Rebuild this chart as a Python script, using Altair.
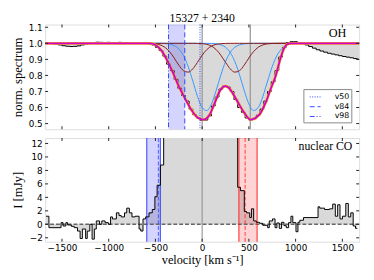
import altair as alt
import pandas as pd

# ---------------- data ----------------
X_DOMAIN = [-1680, 1680]
X_TICKS = [-1500, -1000, -500, 0, 500, 1000, 1500]
OH_Y_TICKS = [0.5, 0.6, 0.7, 0.8, 0.9, 1.0, 1.1]
CO_Y_TICKS = [-2, 0, 2, 4, 6, 8, 10, 12]
TITLE = "15327 + 2340"

# OH spectrum (channel centres, km/s) and normalised flux
OH_V = [-1680, -1640, -1600, -1560, -1520, -1480, -1440, -1400, -1360, -1320,
        -1280, -1240, -1200, -1160, -1120, -1080, -1040, -1000, -960, -920,
        -880, -840, -800, -760, -720, -680, -640, -600, -560, -520,
        -480, -440, -400, -360, -320, -280, -240, -200, -160, -120,
        -80, -40, 0, 40, 80, 120, 160, 200, 240, 280,
        320, 360, 400, 440, 480, 520, 560, 600, 640, 680,
        720, 760, 800, 840, 880, 920, 960, 1000, 1040, 1080,
        1120, 1160, 1200, 1240, 1280, 1320, 1360, 1400, 1440, 1480,
        1520, 1560, 1600, 1640, 1680]
OH_FLUX = [1.000, 1.000, 0.998, 0.995, 0.990, 0.985, 0.982, 0.980, 0.981, 0.984,
           0.990, 0.996, 1.000, 1.004, 1.007, 1.006, 1.005, 1.006, 1.004, 1.005,
           1.006, 1.004, 1.003, 1.002, 1.000, 1.000, 1.000, 0.999, 0.996, 0.990,
           0.975, 0.955, 0.920, 0.870, 0.830, 0.775, 0.720, 0.675, 0.640, 0.590,
           0.555, 0.535, 0.520, 0.522, 0.548, 0.610, 0.665, 0.715, 0.735, 0.728,
           0.700, 0.650, 0.600, 0.570, 0.535, 0.522, 0.530, 0.552, 0.590, 0.640,
           0.700, 0.760, 0.830, 0.915, 0.975, 1.005, 1.010, 1.010, 1.005, 0.998,
           0.990, 0.980, 0.970, 0.960, 0.952, 0.945, 0.938, 0.933, 0.928, 0.923,
           0.918, 0.914, 0.910, 0.905, 0.900]

# total model
TOTAL_V = [-1680, -560, -500, -433, -380, -329, -256, -186, -117, -47, 15, 80, 127,
           196, 248, 290, 336, 390, 440, 520, 614, 684, 736, 788, 830, 858, 910, 950, 1680]
TOTAL_F = [1.0, 1.0, 0.99, 0.953, 0.90, 0.84, 0.74, 0.66, 0.587, 0.537, 0.525, 0.555, 0.618,
           0.71, 0.733, 0.72, 0.68, 0.625, 0.577, 0.525, 0.557, 0.638, 0.72, 0.80, 0.89, 0.943,
           0.994, 1.0, 1.0]

# model components (light blue and dark red curves)
MODEL_V = [-1680, -650, -600, -550, -500, -450, -400, -350, -300, -250, -200, -150, -100,
           -50, 0, 50, 100, 150, 200, 250, 300, 350, 400, 450, 500, 550, 600, 650, 700,
           750, 800, 850, 900, 950, 1000, 1050, 1100, 1150, 1680]
BLUE1 = [1.0, 1.0, 1.0, 1.0, 0.9999, 0.9997, 0.9986, 0.9953, 0.9863, 0.9651, 0.9236, 0.8556,
         0.765, 0.6695, 0.5994, 0.5812, 0.6224, 0.7064, 0.8031, 0.8861, 0.9432, 0.9756,
         0.9909, 0.9971, 0.9992, 0.9998, 1.0, 1.0, 1.0, 1.0, 1.0, 1.0, 1.0, 1.0, 1.0, 1.0,
         1.0, 1.0, 1.0]
BLUE2 = [1.0, 1.0, 1.0, 1.0, 1.0, 1.0, 1.0, 1.0, 1.0, 1.0, 1.0, 1.0, 1.0, 1.0, 1.0,
         0.9998, 0.9992, 0.9971, 0.9909, 0.9756, 0.9432, 0.8861, 0.8031, 0.7064, 0.6224,
         0.5812, 0.5994, 0.6695, 0.765, 0.8556, 0.9236, 0.9651, 0.9863, 0.9953, 0.9986,
         0.9997, 0.9999, 1.0, 1.0]
RED1 = [1.0, 1.0, 0.9998, 0.9991, 0.9967, 0.9903, 0.9756, 0.9486, 0.9089, 0.8641, 0.8297,
        0.8206, 0.8411, 0.8817, 0.926, 0.9611, 0.9828, 0.9936, 0.998, 0.9995, 0.9999,
        1.0, 1.0, 1.0, 1.0, 1.0, 1.0, 1.0, 1.0, 1.0, 1.0, 1.0, 1.0, 1.0, 1.0, 1.0, 1.0,
        1.0, 1.0]
RED2 = [1.0, 1.0, 1.0, 1.0, 1.0, 1.0, 1.0, 1.0, 1.0, 1.0, 1.0, 1.0, 0.9999, 0.9995,
        0.998, 0.9936, 0.9828, 0.9611, 0.926, 0.8817, 0.8411, 0.8206, 0.8297, 0.8641,
        0.9089, 0.9486, 0.9756, 0.9903, 0.9967, 0.9991, 0.9998, 1.0, 1.0, 1.0, 1.0, 1.0,
        1.0, 1.0, 1.0]

# OH outflow velocities
V_LABELS = ["v50", "v84", "v98"]
V_VALUES = [-23, -186, -360]
OH_DOUBLET = [0, 515]

# nuclear CO spectrum: channel left edges (km/s) and flux (mJy)
CO_EDGE = [-1670, -1640, -1510, -1489, -1458, -1440, -1400, -1369, -1334, -1306, -1282,
           -1247, -1230, -1202, -1178, -1154, -1133, -1098, -1074, -1039, -1004, -980,
           -960, -918, -890, -866, -831, -807, -779, -751, -717, -675, -657, -633, -605,
           -569, -534, -506, -482, -447, -412, 380, 410, 451, 475, 509, 527, 551, 579,
           614, 649, 701, 718, 753, 780, 800, 825, 850, 875, 900, 925, 950, 970, 1004,
           1025, 1045, 1084, 1240, 1258, 1310, 1362, 1397, 1425, 1450, 1475, 1501, 1537,
           1564, 1590, 1616, 1641, 1660]
CO_VAL = [1.2, -0.5, 0.25, -0.25, 0.25, -0.1, -0.3, -0.5, -1.0, -2.1, -0.7, -2.1, -1.0,
          0.0, -2.2, -0.7, 0.5, 0.0, 0.5, 0.25, 0.0, 1.1, 0.8, 1.7, 1.3, 1.1, 1.7, 2.4,
          1.7, 1.1, 1.2, -0.7, -1.0, 0.8, 1.1, 1.7, 2.2, 4.1, 5.8, 8.8, 30.0, 5.5, 5.0,
          1.9, 1.7, 1.0, 2.3, 0.5, 0.3, 0.15, -0.15, -0.5, 0.5, 0.8, -0.5, 0.2, -0.6, 0.3,
          -0.2, -0.5, 0.25, 1.2, 0.25, -1.1, 0.3, 0.6, 1.0, 2.6, 2.4, 2.2, 2.3, 3.0, 1.2,
          2.9, 0.8, 1.2, 3.1, 1.1, 1.7, -0.25, -0.6, -0.6]

CO_BLUE_BAND = [-593, -447]
CO_BLUE_DASH = -468
CO_RED_BAND = [393, 588]
CO_RED_DASH = 460

# ---------------- style ----------------
W, H_TOP, H_BOT = 321, 107, 106
SERIF = "Liberation Serif"
SANS = "DejaVu Sans"
TICK = 3

xs = alt.Scale(domain=X_DOMAIN, nice=False, zero=False)
ys_top = alt.Scale(domain=[0.465, 1.117], nice=False, zero=False)
ys_bot = alt.Scale(domain=[-2.58, 12.81], nice=False, zero=False)


def yaxis(values, fmt, title):
    return alt.Axis(values=values, format=fmt, ticks=False, domain=False, grid=False,
                    labelFont=SANS, labelFontSize=9, labelColor="black", labelPadding=3,
                    title=title, titleFont=SERIF, titleFontSize=13, titleFontWeight="normal",
                    titleColor="black", titlePadding=4, minExtent=17, maxExtent=17)


YAX_TOP = yaxis(OH_Y_TICKS, ".1f", "norm. spectrum")
YAX_BOT = yaxis(CO_Y_TICKS, "d", "I [mJy]")
XAX_BOT = alt.Axis(values=X_TICKS, format="d", ticks=False, domain=False, grid=False,
                   labelFont=SANS, labelFontSize=9, labelColor="black", labelPadding=2,
                   title="velocity [km s⁻¹]", titleFont=SERIF, titleFontSize=12.5,
                   titleFontWeight="normal", titleColor="black", titlePadding=1)
XAX_TOP = None


def inward_ticks(xax, yscale, yax, yticks, h):
    xt = pd.DataFrame({"t": X_TICKS})
    yt = pd.DataFrame({"t": yticks})
    base_x = alt.Chart(xt).mark_rule(color="#222", strokeWidth=1)
    base_y = alt.Chart(yt).mark_rule(color="#222", strokeWidth=1)
    return [
        base_x.encode(x=alt.X("t:Q", scale=xs, axis=xax), y=alt.value(h), y2=alt.value(h - TICK)),
        base_x.encode(x=alt.X("t:Q", scale=xs, axis=xax), y=alt.value(0), y2=alt.value(TICK)),
        base_y.encode(y=alt.Y("t:Q", scale=yscale, axis=yax), x=alt.value(0), x2=alt.value(TICK)),
        base_y.encode(y=alt.Y("t:Q", scale=yscale, axis=yax), x=alt.value(W), x2=alt.value(W - TICK)),
    ]


# ---------------- top panel (OH) ----------------
oh_df = pd.DataFrame({"v": OH_V, "f": OH_FLUX})
tot_df = pd.DataFrame({"v": TOTAL_V, "f": TOTAL_F})
comp_df = pd.DataFrame({"v": MODEL_V, "b1": BLUE1, "b2": BLUE2, "r1": RED1, "r2": RED2})

XT = dict(scale=xs, axis=XAX_TOP)
YT = dict(scale=ys_top, axis=YAX_TOP)

oh_fill = alt.Chart(oh_df).mark_area(interpolate="step", color="#d9d9d9").encode(
    x=alt.X("v:Q", **XT), y=alt.Y("f:Q", **YT), y2=alt.datum(1.0))
band_top = alt.Chart(pd.DataFrame({"a": [V_VALUES[2]], "b": [V_VALUES[1]]})).mark_rect(
    color="#0000ff", opacity=0.17).encode(x=alt.X("a:Q", **XT), x2="b:Q")
doublet = alt.Chart(pd.DataFrame({"v": OH_DOUBLET})).mark_rule(color="#999999", strokeWidth=1.3).encode(
    x=alt.X("v:Q", **XT))
oh_hist = alt.Chart(oh_df).mark_line(interpolate="step", color="black", strokeWidth=1).encode(
    x=alt.X("v:Q", **XT), y=alt.Y("f:Q", **YT))


def comp(field, color):
    return alt.Chart(comp_df).mark_line(interpolate="monotone", color=color, strokeWidth=1).encode(
        x=alt.X("v:Q", **XT), y=alt.Y(f"{field}:Q", **YT))


tot_glow = alt.Chart(tot_df).mark_line(interpolate="monotone", color="#ffb000", strokeWidth=2.8).encode(
    x=alt.X("v:Q", **XT), y=alt.Y("f:Q", **YT))
tot_line = alt.Chart(tot_df).mark_line(interpolate="monotone", color="#d000d0", strokeWidth=1.8).encode(
    x=alt.X("v:Q", **XT), y=alt.Y("f:Q", **YT))

vlines = alt.Chart(pd.DataFrame({"label": V_LABELS, "v": V_VALUES})).mark_rule(
    color="#3344ff", strokeWidth=1).encode(
    x=alt.X("v:Q", **XT),
    strokeDash=alt.StrokeDash(
        "label:N",
        scale=alt.Scale(domain=V_LABELS, range=[[1, 1.5], [5, 3], [5, 2, 1, 2]]),
        legend=alt.Legend(orient="none", legendX=264, legendY=66, title=None,
                          fillColor="white", strokeColor="#888888", padding=2,
                          cornerRadius=0, symbolType="stroke", symbolStrokeColor="#3344ff",
                          symbolSize=121, symbolStrokeWidth=1, symbolOffset=4,
                          labelFont=SANS, labelFontSize=8, labelColor="black",
                          labelOffset=14, rowPadding=-1)),
)
oh_text = alt.Chart(pd.DataFrame({"t": ["OH"]})).mark_text(
    font=SERIF, fontSize=12.5, align="right", baseline="top", color="black").encode(
    text="t:N", x=alt.value(W - 13), y=alt.value(3))
title_text = alt.Chart(pd.DataFrame({"t": [TITLE]})).mark_text(
    font=SERIF, fontSize=12, align="center", baseline="alphabetic", color="black").encode(
    text="t:N", x=alt.value(W / 2), y=alt.value(-3))

top = alt.layer(
    oh_fill, band_top, doublet, oh_hist,
    comp("b1", "#3399ff"), comp("b2", "#3399ff"), comp("r1", "#8b1a1a"), comp("r2", "#8b1a1a"),
    tot_glow, tot_line, vlines, oh_text, title_text,
    *inward_ticks(XAX_TOP, ys_top, YAX_TOP, OH_Y_TICKS, H_TOP),
).properties(width=W, height=H_TOP)

# ---------------- bottom panel (CO) ----------------
co_df = pd.DataFrame({"v": CO_EDGE, "f": CO_VAL})
XB = dict(scale=xs, axis=XAX_BOT)
YB = dict(scale=ys_bot, axis=YAX_BOT)

co_fill = alt.Chart(co_df).mark_area(interpolate="step-after", color="#d9d9d9", clip=True).encode(
    x=alt.X("v:Q", **XB), y=alt.Y("f:Q", **YB), y2=alt.datum(0))
bands = alt.Chart(pd.DataFrame({"a": [CO_BLUE_BAND[0], CO_RED_BAND[0]],
                                "b": [CO_BLUE_BAND[1], CO_RED_BAND[1]],
                                "c": ["blue", "red"]})).mark_rect(opacity=0.17).encode(
    x=alt.X("a:Q", **XB), x2="b:Q",
    color=alt.Color("c:N", scale=alt.Scale(domain=["blue", "red"], range=["#0000ff", "#ff0000"]),
                    legend=None))
edges = alt.Chart(pd.DataFrame({"v": CO_BLUE_BAND + CO_RED_BAND,
                                "c": ["blue", "blue", "red", "red"]})).mark_rule(
    strokeWidth=1.2, opacity=0.85).encode(
    x=alt.X("v:Q", **XB),
    color=alt.Color("c:N", scale=alt.Scale(domain=["blue", "red"], range=["#3344ff", "#ff2222"]),
                    legend=None))
dashes = alt.Chart(pd.DataFrame({"v": [CO_BLUE_DASH, CO_RED_DASH], "c": ["blue", "red"]})).mark_rule(
    strokeWidth=1.2, strokeDash=[4, 2], opacity=0.7).encode(
    x=alt.X("v:Q", **XB),
    color=alt.Color("c:N", scale=alt.Scale(domain=["blue", "red"], range=["#3344ff", "#ff2222"]),
                    legend=None))
zero_v = alt.Chart(pd.DataFrame({"v": [0]})).mark_rule(color="#999999", strokeWidth=1.2).encode(
    x=alt.X("v:Q", **XB))
zero_h = alt.Chart(pd.DataFrame({"f": [0]})).mark_rule(color="#666666", strokeWidth=1.5,
                                                       strokeDash=[4, 2]).encode(
    y=alt.Y("f:Q", **YB))
co_hist = alt.Chart(co_df).mark_line(interpolate="step-after", color="black", strokeWidth=1,
                                     clip=True).encode(
    x=alt.X("v:Q", **XB), y=alt.Y("f:Q", **YB))
co_text = alt.Chart(pd.DataFrame({"t": ["nuclear CO"]})).mark_text(
    font=SERIF, fontSize=12, align="right", baseline="top", color="black").encode(
    text="t:N", x=alt.value(W - 7), y=alt.value(3))

bottom = alt.layer(
    co_fill, bands, zero_v, zero_h, edges, dashes, co_hist, co_text,
    *inward_ticks(XAX_BOT, ys_bot, YAX_BOT, CO_Y_TICKS, H_BOT),
).resolve_scale(color="independent").properties(width=W, height=H_BOT)

chart = alt.vconcat(top, bottom, spacing=5).properties(
    padding={"left": 3, "top": 0, "right": 0, "bottom": 0}
).configure_view(stroke="#222222", strokeWidth=1).configure(background="white")

chart.save("out.html", embed_options={"renderer": "svg", "actions": False})
